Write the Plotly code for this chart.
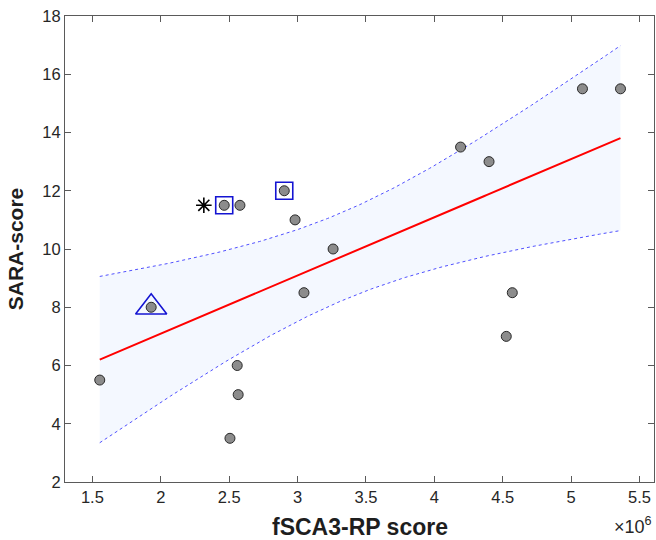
import numpy as np
import plotly.graph_objects as go

# fSCA3-RP score (x 1e6) and SARA-score for subjects in regression
fsca_score = [1.554, 1.93, 2.464, 2.579, 2.903, 2.982, 3.26, 3.047, 2.559, 2.566,
              2.506, 4.192, 4.40, 5.083, 5.361, 4.57, 4.526]
sara_score = [5.5, 8.0, 11.5, 11.5, 12.0, 11.0, 10.0, 8.5, 6.0, 5.0,
              3.5, 13.5, 13.0, 15.5, 15.5, 8.5, 7.0]

# subject excluded from fit (asterisk)
excluded_x = [2.315]
excluded_y = [11.5]

# highlighted subjects
square_x = [2.464, 2.903]
square_y = [11.5, 12.0]
triangle_x = [1.93]
triangle_y = [8.0]

x_ticks = [1.5, 2, 2.5, 3, 3.5, 4, 4.5, 5, 5.5]
x_tick_labels = ["1.5", "2", "2.5", "3", "3.5", "4", "4.5", "5", "5.5"]
y_ticks = [2, 4, 6, 8, 10, 12, 14, 16, 18]

scale = 1e6
x = np.array(fsca_score) * scale
y = np.array(sara_score)
n = len(x)
slope, intercept = np.polyfit(x, y, 1)
xf = np.linspace(x.min(), x.max(), 200)
yf = intercept + slope * xf
resid = y - (intercept + slope * x)
s = np.sqrt(np.sum(resid**2) / (n - 2))
sxx = np.sum((x - x.mean())**2)
t_crit = 2.1314  # t(0.975, df=15)
half = t_crit * s * np.sqrt(1.0 / n + (xf - x.mean())**2 / sxx)
upper = yf + half
lower = yf - half

blue = "rgb(20,20,210)"

fig = go.Figure()
fig.add_trace(go.Scatter(x=np.concatenate([xf, xf[::-1]]), y=np.concatenate([upper, lower[::-1]]),
                         fill="toself", fillcolor="rgb(244,248,255)", line=dict(width=0),
                         mode="lines", hoverinfo="skip", showlegend=False))
fig.add_trace(go.Scatter(x=xf, y=upper, mode="lines",
                         line=dict(color="rgb(80,80,255)", width=1, dash="dot"), showlegend=False))
fig.add_trace(go.Scatter(x=xf, y=lower, mode="lines",
                         line=dict(color="rgb(80,80,255)", width=1, dash="dot"), showlegend=False))
fig.add_trace(go.Scatter(x=xf, y=yf, mode="lines",
                         line=dict(color="rgb(255,0,0)", width=2), showlegend=False))
fig.add_trace(go.Scatter(x=x, y=y, mode="markers",
                         marker=dict(symbol="circle", size=10, color="rgb(140,140,140)",
                                     line=dict(color="rgb(40,40,40)", width=1)),
                         showlegend=False))
fig.add_trace(go.Scatter(x=np.array(excluded_x) * scale, y=excluded_y, mode="markers",
                         marker=dict(symbol="asterisk-open", size=13, color="black",
                                     line=dict(color="black", width=1.6)),
                         showlegend=False))
fig.add_trace(go.Scatter(x=np.array(square_x) * scale, y=square_y, mode="markers",
                         marker=dict(symbol="square-open", size=17, color=blue,
                                     line=dict(color=blue, width=1.6)),
                         showlegend=False))
fig.add_trace(go.Scatter(x=np.array(triangle_x) * scale, y=triangle_y, mode="markers",
                         marker=dict(symbol="triangle-up-open", size=27, color=blue,
                                     line=dict(color=blue, width=1.6)),
                         showlegend=False))

axis_common = dict(showline=True, linecolor="rgb(90,90,90)", linewidth=1, mirror="allticks",
                   ticks="inside", ticklen=6, tickcolor="rgb(90,90,90)", showgrid=False,
                   zeroline=False, automargin=False,
                   tickfont=dict(family="Liberation Sans, Arial", size=16.5, color="rgb(38,38,38)"))

fig.update_xaxes(range=[1.3 * scale, 5.606 * scale], tickvals=[v * scale for v in x_ticks],
                 ticktext=x_tick_labels, **axis_common)
fig.update_yaxes(range=[2, 18], tickvals=y_ticks,
                 title=dict(text="<b>SARA-score</b>", standoff=12,
                            font=dict(family="Liberation Sans, Arial", size=21, color="rgb(30,30,30)")),
                 **axis_common)

# x-axis title
fig.add_annotation(text="<b>fSCA3-RP score</b>", xref="paper", yref="paper", x=0.5, y=-0.064,
                   xanchor="center", yanchor="top", showarrow=False,
                   font=dict(family="Liberation Sans, Arial", size=23, color="rgb(30,30,30)"))
fig.add_annotation(text="×10<sup>6</sup>", xref="paper", yref="paper", x=1.0, y=-0.1223,
                   xanchor="right", yanchor="bottom", showarrow=False,
                   font=dict(family="Liberation Sans, Arial", size=18, color="rgb(38,38,38)"))

fig.update_layout(width=656, height=540, margin=dict(l=65, r=2, t=16, b=58),
                  plot_bgcolor="white", paper_bgcolor="white")

fig.write_html("out.html", config={"displayModeBar": False},
               post_script="document.body.style.margin='0';document.body.style.overflow='hidden';")
